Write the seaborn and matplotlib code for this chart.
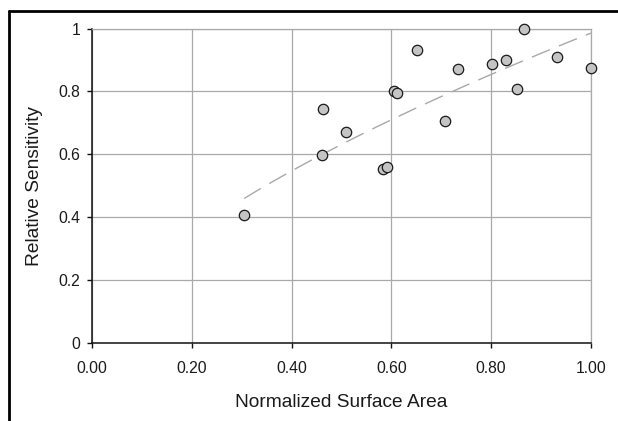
import numpy as np
import matplotlib
matplotlib.use("Agg")
import matplotlib.pyplot as plt
from matplotlib.lines import Line2D
from matplotlib.ticker import FormatStrFormatter, FuncFormatter
import seaborn as sns

# Normalized surface area vs. relative sensitivity
surface_area = [0.305, 0.461, 0.464, 0.509, 0.584, 0.591, 0.606, 0.612, 0.651,
                0.708, 0.733, 0.801, 0.829, 0.852, 0.866, 0.932, 1.000]
sensitivity = [0.405, 0.598, 0.745, 0.672, 0.552, 0.561, 0.800, 0.795, 0.932,
               0.705, 0.872, 0.888, 0.900, 0.807, 1.000, 0.910, 0.876]

x_ticks = [0.0, 0.2, 0.4, 0.6, 0.8, 1.0]
y_ticks = [0.0, 0.2, 0.4, 0.6, 0.8, 1.0]

sns.set_style("whitegrid")
plt.rcParams["font.family"] = ["Liberation Sans", "DejaVu Sans"]

fig = plt.figure(figsize=(6.18, 4.21), dpi=100)
ax = fig.add_axes([0.149, 0.186, 0.807, 0.746])

# Power-law trend line y = a * x^b (least squares in log-log space)
xs = np.asarray(surface_area)
ys = np.asarray(sensitivity)
b, ln_a = np.polyfit(np.log(xs), np.log(ys), 1)
fit_x = np.linspace(xs.min(), xs.max(), 200)
fit_y = np.exp(ln_a) * fit_x ** b
sns.lineplot(x=fit_x, y=fit_y, ax=ax, color="#a8a8a8", linewidth=1.0,
             linestyle=(0, (14, 7)), zorder=2)

sns.scatterplot(x=surface_area, y=sensitivity, ax=ax, s=56, color="#c4c4c4",
                edgecolor="#1a1a1a", linewidth=0.9, zorder=3, clip_on=False)

ax.set_xlim(0, 1)
ax.set_ylim(0, 1)
ax.set_xticks(x_ticks)
ax.set_yticks(y_ticks)
ax.xaxis.set_major_formatter(FormatStrFormatter("%.2f"))
ax.yaxis.set_major_formatter(FuncFormatter(lambda v, _: f"{v:g}"))

ax.grid(True, color="#a9a9a9", linewidth=0.9)
ax.set_axisbelow(True)
for side in ("top", "right"):
    ax.spines[side].set_color("#a9a9a9")
    ax.spines[side].set_linewidth(0.9)
for side in ("left", "bottom"):
    ax.spines[side].set_color("#111111")
    ax.spines[side].set_linewidth(1.1)

ax.tick_params(axis="both", which="major", direction="out", length=3.5,
               width=1.0, color="#111111", labelsize=11.3, labelcolor="#1a1a1a",
               bottom=True, left=True)
ax.tick_params(axis="x", pad=10)
ax.tick_params(axis="y", pad=5)

ax.set_xlabel("Normalized Surface Area", fontsize=13.8, color="#1a1a1a", labelpad=13)
ax.set_ylabel("Relative Sensitivity", fontsize=13.8, color="#1a1a1a", labelpad=11)

# Outer frame (top and left edges)
fig.add_artist(Line2D([0.0145, 1.0], [1 - 11 / 421, 1 - 11 / 421],
                      transform=fig.transFigure, color="black", linewidth=2.0))
fig.add_artist(Line2D([0.0145, 0.0145], [0.0, 1 - 11 / 421],
                      transform=fig.transFigure, color="black", linewidth=2.0))

fig.savefig("out.png", dpi=100)
